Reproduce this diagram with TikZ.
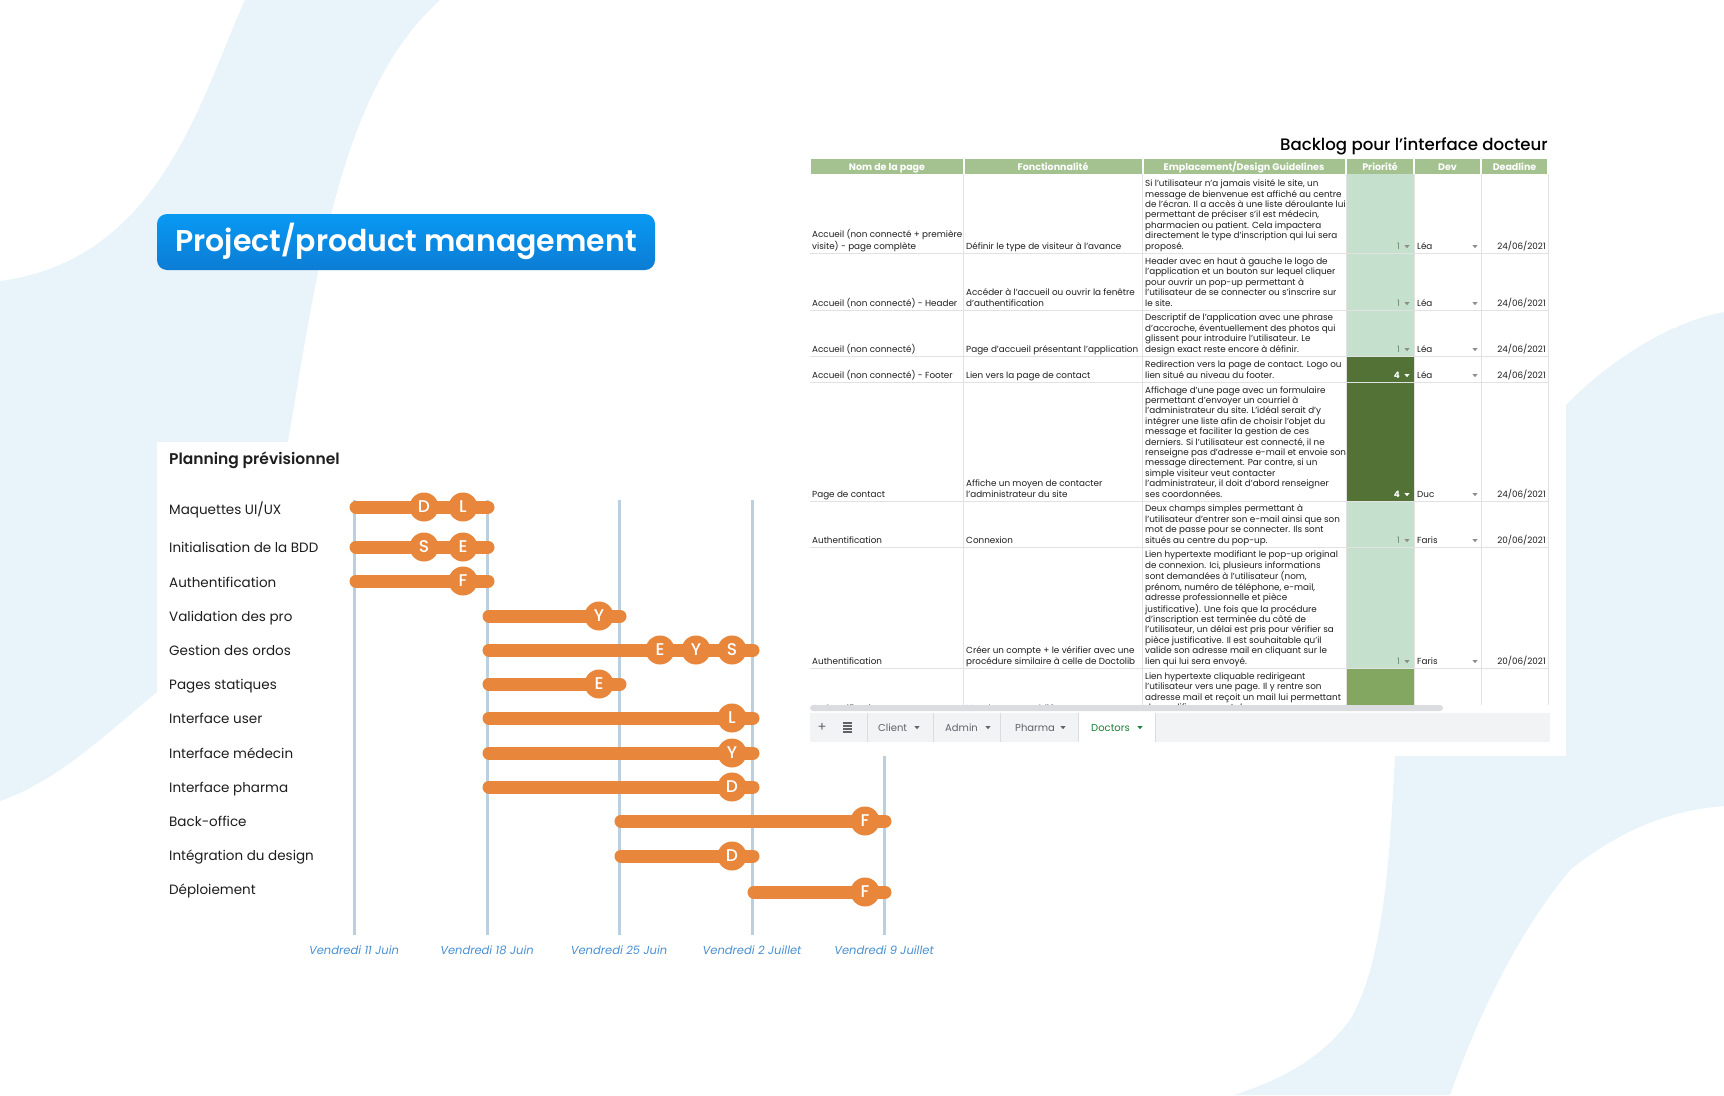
\documentclass[tikz,border=0pt]{standalone}
\usepackage{fontspec}
\setmainfont{Poppins}
\IfFontExistsTF{Poppins SemiBold}{\newfontfamily\semib{Poppins SemiBold}}{\newcommand\semib{\bfseries}}
\IfFontExistsTF{Poppins Medium}{\newfontfamily\medf{Poppins Medium}}{\newcommand\medf{\relax}}
\definecolor{blobc}{RGB}{232,243,250}
\definecolor{btnTop}{RGB}{8,153,243}
\definecolor{btnBot}{RGB}{12,124,212}
\definecolor{orng}{RGB}{232,134,60}
\definecolor{vline}{RGB}{186,207,223}
\definecolor{datec}{RGB}{74,144,210}
\definecolor{hdr}{RGB}{164,194,144}
\definecolor{plight}{RGB}{197,224,205}
\definecolor{pdark}{RGB}{83,114,54}
\definecolor{pmid}{RGB}{131,166,97}
\definecolor{gridc}{RGB}{226,226,226}
\definecolor{tabbg}{RGB}{241,243,244}
\definecolor{tabtxt}{RGB}{95,99,104}
\definecolor{tabgreen}{RGB}{24,128,56}
\definecolor{txtc}{RGB}{30,30,30}
\definecolor{numc}{RGB}{105,135,105}
\definecolor{arrc}{RGB}{140,140,140}
\definecolor{scrc}{RGB}{218,220,224}
\newcommand{\ddtri}[3]{\fill[#3] (#1-2.6,#2-1.4) -- (#1+2.6,#2-1.4) -- (#1,#2+1.6) -- cycle;}
\begin{document}
\begin{tikzpicture}[x=1pt,y=-1pt,
  lbl/.style={anchor=base west, inner sep=0pt, font=\fontsize{13.5}{16}\selectfont, text=txtc},
  bar/.style={line width=13pt, line cap=round, draw=orng},
  circ/.style={circle, fill=orng, minimum size=29pt, inner sep=0pt, text=white, font=\fontsize{17}{20}\selectfont\medf},
  vl/.style={line width=3pt, draw=vline},
  datelbl/.style={anchor=base, inner sep=0pt, font=\fontsize{11.5}{14}\selectfont\itshape, text=datec},
  cell/.style={anchor=south west, inner sep=0pt, align=left, font=\fontsize{8.8}{10.4}\selectfont, text=txtc},
  hdrtxt/.style={anchor=base, inner sep=0pt, font=\fontsize{9.5}{11}\selectfont\bfseries, text=white},
  meta/.style={inner sep=0pt, font=\fontsize{8.8}{10.4}\selectfont, text=txtc},
  tabt/.style={anchor=base west, inner sep=0pt, font=\fontsize{10}{12}\selectfont, text=tabtxt},
  grid/.style={draw=gridc, line width=1pt}
]
\useasboundingbox (0,0) rectangle (1724,1095);
\fill[white] (0,0) rectangle (1724,1095);
% background blobs
\fill[blobc] (245,0) -- (440,0) .. controls (345,85) and (320,250) .. (290,430)
  .. controls (265,560) and (230,640) .. (157,692)
  .. controls (110,730) and (60,780) .. (0,801) -- (0,281)
  .. controls (160,260) and (200,100) .. (245,0) -- cycle;
\fill[blobc] (1724,312) .. controls (1670,322) and (1610,360) .. (1566,405)
  .. controls (1470,510) and (1400,640) .. (1395,756)
  .. controls (1390,850) and (1385,960) .. (1350,1020)
  .. controls (1320,1060) and (1280,1080) .. (1234,1095) -- (1450,1095)
  .. controls (1480,1010) and (1520,930) .. (1570,870)
  .. controls (1620,830) and (1670,810) .. (1724,806) -- cycle;
% planning panel
\fill[white] (157,442) rectangle (1000,1000);
% title button
\shade[top color=btnTop, bottom color=btnBot, rounded corners=10pt] (157,214) rectangle (655,270);
\node[anchor=base, inner sep=0pt, text=white, font=\fontsize{30}{34}\selectfont\semib] (ttl) at (406,251) {Project/product management};
% gantt
\node[anchor=base west, inner sep=0pt, font=\fontsize{15.5}{18}\selectfont\semib, text=txtc] (plan) at (169,464) {Planning prévisionnel};
\foreach \xx in {354,487,619,752,884} {\draw[vl] (\xx,500) -- (\xx,935);}
\node[datelbl] (d1) at (354,954) {Vendredi 11 Juin};
\node[datelbl] (d2) at (487,954) {Vendredi 18 Juin};
\node[datelbl] (d3) at (619,954) {Vendredi 25 Juin};
\node[datelbl] (d4) at (752,954) {Vendredi 2 Juillet};
\node[datelbl] (d5) at (884,954) {Vendredi 9 Juillet};
\node[lbl] (l1) at (169,514) {Maquettes UI/UX};
\node[lbl] (l2) at (169,552) {Initialisation de la BDD};
\node[lbl] (l3) at (169,587) {Authentification};
\node[lbl] (l4) at (169,621) {Validation des pro};
\node[lbl] (l5) at (169,655) {Gestion des ordos};
\node[lbl] (l6) at (169,689) {Pages statiques};
\node[lbl] (l7) at (169,723) {Interface user};
\node[lbl] (l8) at (169,758) {Interface médecin};
\node[lbl] (l9) at (169,792) {Interface pharma};
\node[lbl] (l10) at (169,826) {Back-office};
\node[lbl] (l11) at (169,860) {Intégration du design};
\node[lbl] (l12) at (169,894) {Déploiement};
\draw[bar] (356,507) -- (488,507);
\draw[bar] (356,547) -- (488,547);
\draw[bar] (356,581) -- (488,581);
\draw[bar] (489,616) -- (620,616);
\draw[bar] (489,650) -- (753,650);
\draw[bar] (489,684) -- (620,684);
\draw[bar] (489,718) -- (753,718);
\draw[bar] (489,753) -- (753,753);
\draw[bar] (489,787) -- (753,787);
\draw[bar] (621,821) -- (885,821);
\draw[bar] (621,856) -- (753,856);
\draw[bar] (754,892) -- (885,892);
\node[circ] (c1a) at (424,507) {D};
\node[circ] (c1b) at (463,507) {L};
\node[circ] (c2a) at (424,547) {S};
\node[circ] (c2b) at (463,547) {E};
\node[circ] (c3a) at (463,581) {F};
\node[circ] (c4a) at (599,616) {Y};
\node[circ] (c5a) at (660,650) {E};
\node[circ] (c5b) at (696,650) {Y};
\node[circ] (c5c) at (732,650) {S};
\node[circ] (c6a) at (599,684) {E};
\node[circ] (c7a) at (732,718) {L};
\node[circ] (c8a) at (732,753) {Y};
\node[circ] (c9a) at (732,787) {D};
\node[circ] (c10a) at (865,821) {F};
\node[circ] (c11a) at (732,856) {D};
\node[circ] (c12a) at (865,892) {F};
% table box
\fill[white] (800,110) rectangle (1566,756);
\node[anchor=base east, inner sep=0pt, font=\fontsize{16.6}{20}\selectfont\medf, text=black] (btitle) at (1548,150) {Backlog pour l’interface docteur};
% header
\foreach \a/\b in {810/963.5,963.5/1142.5,1142.5/1346,1346/1414,1414/1481,1481/1548}
  {\fill[hdr] (\a+1,159) rectangle (\b-1,174);}
\node[hdrtxt] (h1) at (887,170) {Nom de la page};
\node[hdrtxt] (h2) at (1053,170) {Fonctionnalité};
\node[hdrtxt] (h3) at (1244,170) {Emplacement/Design Guidelines};
\node[hdrtxt] (h4) at (1380,170) {Priorité};
\node[hdrtxt] (h5) at (1447.5,170) {Dev};
\node[hdrtxt] (h6) at (1514.5,170) {Deadline};
% priority fills
\fill[plight] (1346.5,174) rectangle (1413.5,356);
\fill[pdark] (1346.5,356) rectangle (1413.5,501);
\fill[plight] (1346.5,501) rectangle (1413.5,668);
\fill[pmid] (1346.5,668) rectangle (1413.5,705);
% grid
\foreach \yy in {253,310,356,382,501,547,668} {\draw[grid] (810,\yy) -- (1548,\yy);}
\foreach \xx in {963.5,1142.5,1346,1414,1481,1548} {\draw[grid] (\xx,174) -- (\xx,705);}
% row 1
\node[cell] (n1) at (812,252.5) {Accueil (non connecté + première\\visite) - page complète\strut};
\node[cell] (f1) at (966,252.5) {Définir le type de visiteur à l'avance\strut};
\node[cell] (e1) at (1145,252.5) {Si l'utilisateur n'a jamais visité le site, un\\message de bienvenue est affiché au centre\\de l'écran. Il a accès à une liste déroulante lui\\permettant de préciser s'il est médecin,\\pharmacien ou patient. Cela impactera\\directement le type d'inscription qui lui sera\\proposé.\strut};
% row 2
\node[cell] (n2) at (812,309.5) {Accueil (non connecté) - Header\strut};
\node[cell] (f2) at (966,309.5) {Accéder à l'accueil ou ouvrir la fenêtre\\d'authentification\strut};
\node[cell] (e2) at (1145,309.5) {Header avec en haut à gauche le logo de\\l'application et un bouton sur lequel cliquer\\pour ouvrir un pop-up permettant à\\l'utilisateur de se connecter ou s'inscrire sur\\le site.\strut};
% row 3
\node[cell] (n3) at (812,355.5) {Accueil (non connecté)\strut};
\node[cell] (f3) at (966,355.5) {Page d'accueil présentant l'application\strut};
\node[cell] (e3) at (1145,355.5) {Descriptif de l'application avec une phrase\\d'accroche, éventuellement des photos qui\\glissent pour introduire l'utilisateur. Le\\design exact reste encore à définir.\strut};
% row 4
\node[cell] (n4) at (812,381.5) {Accueil (non connecté) - Footer\strut};
\node[cell] (f4) at (966,381.5) {Lien vers la page de contact\strut};
\node[cell] (e4) at (1145,381.5) {Redirection vers la page de contact. Logo ou\\lien situé au niveau du footer.\strut};
% row 5
\node[cell] (n5) at (812,500.5) {Page de contact\strut};
\node[cell] (f5) at (966,500.5) {Affiche un moyen de contacter\\l'administrateur du site\strut};
\node[cell] (e5) at (1145,500.5) {Affichage d'une page avec un formulaire\\permettant d'envoyer un courriel à\\l'administrateur du site. L'idéal serait d'y\\intégrer une liste afin de choisir l'objet du\\message et faciliter la gestion de ces\\derniers. Si l'utilisateur est connecté, il ne\\renseigne pas d'adresse e-mail et envoie son\\message directement. Par contre, si un\\simple visiteur veut contacter\\l'administrateur, il doit d'abord renseigner\\ses coordonnées.\strut};
% row 6
\node[cell] (n6) at (812,546.5) {Authentification\strut};
\node[cell] (f6) at (966,546.5) {Connexion\strut};
\node[cell] (e6) at (1145,546.5) {Deux champs simples permettant à\\l'utilisateur d'entrer son e-mail ainsi que son\\mot de passe pour se connecter. Ils sont\\situés au centre du pop-up.\strut};
% row 7
\node[cell] (n7) at (812,667.5) {Authentification\strut};
\node[cell] (f7) at (966,667.5) {Créer un compte + le vérifier avec une\\procédure similaire à celle de Doctolib\strut};
\node[cell] (e7) at (1145,667.5) {Lien hypertexte modifiant le pop-up original\\de connexion. Ici, plusieurs informations\\sont demandées à l'utilisateur (nom,\\prénom, numéro de téléphone, e-mail,\\adresse professionnelle et pièce\\justificative). Une fois que la procédure\\d'inscription est terminée du côté de\\l'utilisateur, un délai est pris pour vérifier sa\\pièce justificative. Il est souhaitable qu'il\\valide son adresse mail en cliquant sur le\\lien qui lui sera envoyé.\strut};
% row 8 (cut)
\begin{scope}
\clip (805,668) rectangle (1560,705);
\node[meta, anchor=base west] (n8) at (812,711) {Authentification};
\node[meta, anchor=base west] (f8) at (966,711) {Mot de passe oublié};
\node[cell] (e8) at (1145,714) {Lien hypertexte cliquable redirigeant\\l'utilisateur vers une page. Il y rentre son\\adresse mail et reçoit un mail lui permettant\\de modifier son mot de passe.\strut};
\end{scope}
% meta columns
\foreach \yy [count=\i] in {253,310,356,547,668}{
  \node[meta, anchor=base east, text=numc] (p\i) at (1400,\yy-3.5) {1};
  \ddtri{1407}{\yy-6.5}{arrc}
}
\node[meta, anchor=base east, text=white, font=\fontsize{8.8}{10.4}\selectfont\bfseries] (p6) at (1400,378.5) {4};
\ddtri{1407}{375.5}{white}
\node[meta, anchor=base east, text=white, font=\fontsize{8.8}{10.4}\selectfont\bfseries] (p7) at (1400,497.5) {4};
\ddtri{1407}{494.5}{white}
\node[meta, anchor=base west] (v1) at (1417,249.5) {Léa};
\node[meta, anchor=base west] (v2) at (1417,306.5) {Léa};
\node[meta, anchor=base west] (v3) at (1417,352.5) {Léa};
\node[meta, anchor=base west] (v4) at (1417,378.5) {Léa};
\node[meta, anchor=base west] (v5) at (1417,497.5) {Duc};
\node[meta, anchor=base west] (v6) at (1417,543.5) {Faris};
\node[meta, anchor=base west] (v7) at (1417,664.5) {Faris};
\foreach \yy in {253,310,356,382,501,547,668} {\ddtri{1475}{\yy-6.5}{arrc}}
\node[meta, anchor=base east] (w1) at (1546,249.5) {24/06/2021};
\node[meta, anchor=base east] (w2) at (1546,306.5) {24/06/2021};
\node[meta, anchor=base east] (w3) at (1546,352.5) {24/06/2021};
\node[meta, anchor=base east] (w4) at (1546,378.5) {24/06/2021};
\node[meta, anchor=base east] (w5) at (1546,497.5) {24/06/2021};
\node[meta, anchor=base east] (w6) at (1546,543.5) {20/06/2021};
\node[meta, anchor=base east] (w7) at (1546,664.5) {20/06/2021};
% scrollbar and tabs
\fill[scrc, rounded corners=3pt] (810,705) rectangle (1443,711);
\fill[tabbg] (810,713) rectangle (1550,742);
\fill[white] (1078,713) rectangle (1155,742);
\foreach \xx in {867,933,1000,1078,1155} {\draw[draw=scrc, line width=1pt] (\xx,713) -- (\xx,742);}
\node[inner sep=0pt, font=\fontsize{13}{14}\selectfont, text=tabtxt] (plus) at (822,727) {+};
\foreach \yy in {723,726,729,732} {\draw[draw=tabtxt, line width=1.2pt] (843,\yy) -- (852,\yy);}
\node[tabt] (t1) at (878,731) {Client};
\ddtri{917}{727.5}{tabtxt}
\node[tabt] (t2) at (945,731) {Admin};
\ddtri{988}{727.5}{tabtxt}
\node[tabt] (t3) at (1015,731) {Pharma};
\ddtri{1063}{727.5}{tabtxt}
\node[tabt, text=tabgreen] (t4) at (1091,731) {Doctors};
\ddtri{1140}{727.5}{tabgreen}
\end{tikzpicture}
\end{document}
